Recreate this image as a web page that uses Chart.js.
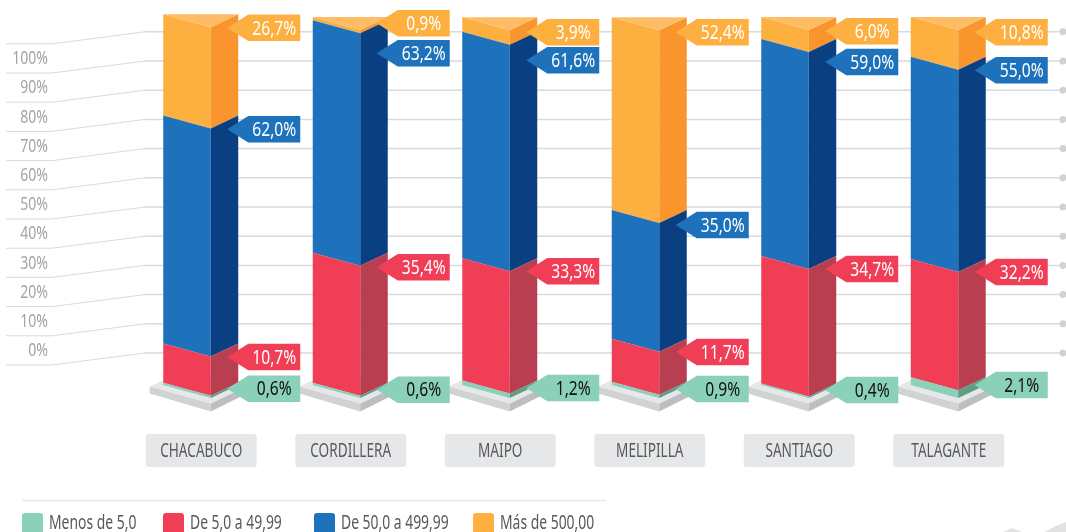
<!DOCTYPE html>
<html>
<head>
<meta charset="utf-8">
<script src="https://cdn.jsdelivr.net/npm/chart.js@4"></script>
<style>
html, body { margin: 0; padding: 0; background: #fff; overflow: hidden; }
#wrap { position: relative; width: 1066px; height: 532px; }
</style>
</head>
<body>
<div id="wrap"><canvas id="comunaschart" width="1066" height="532"></canvas></div>
<script>
const categories = ['CHACABUCO', 'CORDILLERA', 'MAIPO', 'MELIPILLA', 'SANTIAGO', 'TALAGANTE'];
const seriesNames = ['Menos de 5,0', 'De 5,0 a 49,99', 'De 50,0 a 499,99', 'Más de 500,00'];
const menos5 = [0.6, 0.6, 1.2, 0.9, 0.4, 2.1];
const de5 = [10.7, 35.4, 33.3, 11.7, 34.7, 32.2];
const de50 = [62.0, 63.2, 61.6, 35.0, 59.0, 55.0];
const mas500 = [26.7, 0.9, 3.9, 52.4, 6.0, 10.8];
const axisTicks = [0, 10, 20, 30, 40, 50, 60, 70, 80, 90, 100, 110];

// front, side, text
const colors = [
    ['#8bd0b8', '#5d9e85', '#111111'],
    ['#f13e57', '#b83e50', '#ffffff'],
    ['#1d72bb', '#0a4082', '#ffffff'],
    ['#fdb040', '#f9952c', '#ffffff']
];
const capColor = '#fdbc65';

// vertical shift of each callout from the top corner of its segment (one row per column, bottom segment first)
const calloutShift = [
    [-7, 0.5, 0.7, -2.5],
    [-6, 1.5, 20, -6.6],
    [-5.6, 0, 15.6, 2],
    [-5.7, 0.4, 2, 2],
    [-6.5, 0, 10, 1.4],
    [-5.3, 0, 0.6, 2.4]
];
// the first column sticks out a little above the others
const capRaise = [3, 0, 0, 0, 0, 0];

const SKEW = 13, FRONT = 47.5, SIDE = 27.5;

function poly(ctx, pts, fill) {
    ctx.fillStyle = fill;
    ctx.beginPath();
    pts.forEach(function (p, i) { i ? ctx.lineTo(p[0], p[1]) : ctx.moveTo(p[0], p[1]); });
    ctx.closePath();
    ctx.fill();
}

// no condensed font installed, so squeeze Noto Sans sideways
function narrowText(ctx, text, x, y, size, color, align, squeeze) {
    ctx.save();
    ctx.translate(x, y);
    ctx.scale(squeeze, 1);
    ctx.font = size + 'px "Noto Sans"';
    ctx.fillStyle = color;
    ctx.textAlign = align;
    ctx.textBaseline = 'middle';
    ctx.fillText(text, 0, 0);
    ctx.restore();
}

// lines and tick labels of the back wall, on their own scale
const wallPlugin = {
    id: 'wall',
    beforeDatasetsDraw: function (chart) {
        const ctx = chart.ctx, wall = chart.scales.wall;
        ctx.save();
        axisTicks.forEach(function (t) {
            const y = wall.getPixelForValue(t);
            ctx.strokeStyle = '#d9dadb';
            ctx.lineWidth = 1;
            ctx.beginPath();
            ctx.moveTo(6, y + 12);
            ctx.lineTo(52, y + 12);
            ctx.lineTo(145, y);
            ctx.stroke();
            ctx.lineWidth = 1.5;
            ctx.beginPath();
            ctx.moveTo(145, y);
            ctx.lineTo(1063, y);
            ctx.stroke();
            ctx.fillStyle = '#d1d2d4';
            ctx.beginPath();
            ctx.arc(1063, y, 3.5, 0, Math.PI * 2);
            ctx.fill();
            if (t <= 100) narrowText(ctx, t + '%', 48, y - 2, 18, '#a3a4a6', 'right', 0.78);
        });
        // plinth under each column
        chart.getDatasetMeta(0).data.forEach(function (bar) {
            const cx = bar.x + 10, top = bar.base + 1.5;
            poly(ctx, [[cx - 61, top], [cx, top + 17], [cx + 36, top], [cx - 25, top - 17]], '#e6e7e8');
            poly(ctx, [[cx - 61, top], [cx, top + 17], [cx, top + 25], [cx - 61, top + 7]], '#d1d2d4');
            poly(ctx, [[cx, top + 17], [cx + 36, top], [cx + 36, top + 7], [cx, top + 25]], '#bcbec0');
        });
        ctx.restore();
    }
};

// the columns are drawn as three faces from the bar elements
const columnPlugin = {
    id: 'column',
    beforeDatasetDraw: function (chart, args) {
        const ctx = chart.ctx, idx = args.index;
        const isTop = idx === chart.data.datasets.length - 1;
        args.meta.data.forEach(function (bar, i) {
            const x0 = bar.x - bar.width / 2, x1 = x0 + FRONT, x2 = x1 + SIDE;
            const t = isTop ? bar.y - capRaise[i] : bar.y, b = bar.base;
            poly(ctx, [[x0, t], [x1, t + SKEW], [x1, b + SKEW], [x0, b]], colors[idx][0]);
            poly(ctx, [[x1, t + SKEW], [x2, t], [x2, b], [x1, b + SKEW]], colors[idx][1]);
            if (isTop) {
                poly(ctx, [[x0, t], [x2, t], [x1, t + SKEW]], capColor);
            }
        });
        return false;
    }
};

const overlayPlugin = {
    id: 'overlay',
    afterDatasetsDraw: function (chart) {
        const ctx = chart.ctx;
        ctx.save();
        chart.data.datasets.forEach(function (ds, idx) {
            chart.getDatasetMeta(idx).data.forEach(function (bar, i) {
                const x0 = bar.x - bar.width / 2;
                const cy = bar.y + SKEW + calloutShift[i][idx];
                const tip = x0 + 64, sh = x0 + 85, end = x0 + 137;
                poly(ctx, [[tip, cy], [sh, cy - 13.25], [end, cy - 13.25], [end, cy + 13.25], [sh, cy + 13.25]], colors[idx][0]);
                narrowText(ctx, ds.data[i].toFixed(1).replace('.', ',') + '%', x0 + 111, cy + 1, 20, colors[idx][2], 'center', 0.78);
            });
        });
        // category plates
        chart.getDatasetMeta(0).data.forEach(function (bar, i) {
            ctx.fillStyle = '#e6e7e8';
            ctx.beginPath();
            ctx.roundRect(bar.x - 55, 434, 111, 33, 3);
            ctx.fill();
            narrowText(ctx, categories[i], bar.x + 0.5, 451, 20, '#58595b', 'center', 0.68);
        });
        // legend
        ctx.strokeStyle = '#e6e7e8';
        ctx.lineWidth = 1.5;
        ctx.beginPath();
        ctx.moveTo(22, 500.5);
        ctx.lineTo(606, 500.5);
        ctx.stroke();
        const legendX = [22, 163, 314, 473];
        seriesNames.forEach(function (name, i) {
            ctx.fillStyle = colors[i][0];
            ctx.beginPath();
            ctx.roundRect(legendX[i], 513, 21, 24, 3);
            ctx.fill();
            narrowText(ctx, name, legendX[i] + 27, 523, 20, '#58595b', 'left', 0.695);
        });
        // smudge in the corner
        poly(ctx, [[1003, 532], [1012, 528], [1022, 532]], '#e2e2e2');
        poly(ctx, [[1044, 532], [1056, 526], [1066, 522], [1066, 532]], '#e2e2e2');
        ctx.restore();
    }
};

const datasets = [menos5, de5, de50, mas500].map(function (vals, i) {
    return {
        label: seriesNames[i],
        data: vals,
        backgroundColor: colors[i][0],
        barThickness: FRONT + SIDE,
        stack: 'comuna'
    };
});

new Chart(document.getElementById('comunaschart').getContext('2d'), {
    type: 'bar',
    data: { labels: categories, datasets: datasets },
    plugins: [wallPlugin, columnPlugin, overlayPlugin],
    options: {
        responsive: false,
        animation: false,
        layout: { padding: { left: 126, right: 43, top: 17.3, bottom: 147 } },
        plugins: { legend: { display: false }, title: { display: false }, tooltip: { enabled: false } },
        scales: {
            x: { display: false, stacked: true },
            y: { display: false, stacked: true, min: 0, max: 100 },
            // back wall: 0% at 353, 100% at 61
            wall: { display: false, position: 'left', min: -10.96, max: 114.97 }
        }
    }
});
</script>
</body>
</html>
